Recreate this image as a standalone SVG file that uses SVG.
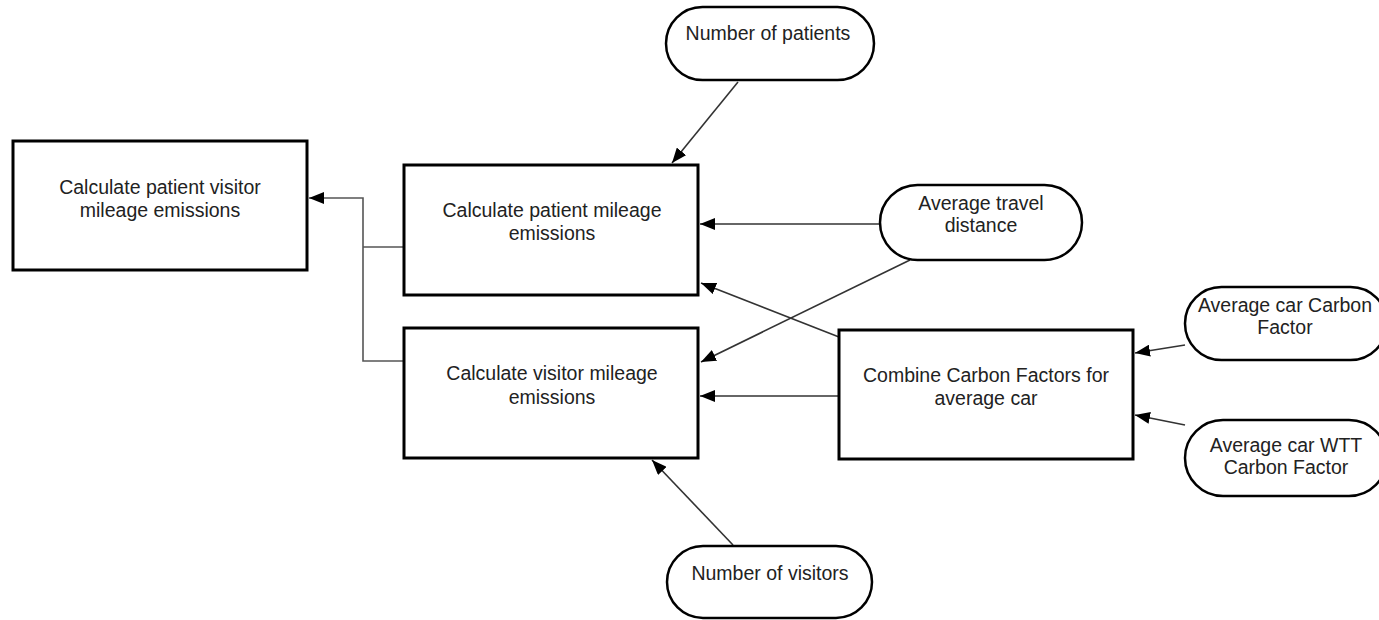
<svg xmlns="http://www.w3.org/2000/svg" width="1379" height="620" viewBox="0 0 1379 620">
  <defs>
    <marker id="arrow" markerUnits="userSpaceOnUse" markerWidth="15" markerHeight="12" refX="15" refY="6" orient="auto">
      <path d="M0,0 L15,6 L0,12 z" fill="#000"/>
    </marker>
    <style>
      .box { fill: #fff; stroke: #000; stroke-width: 3; }
      .pill { fill: #fff; stroke: #000; stroke-width: 2.5; }
      .lbl { font-family: "Liberation Sans", Arial, sans-serif; font-size: 19.5px; fill: #222; text-anchor: middle; }
      .conn { fill: none; stroke: #333; stroke-width: 1.6; }
      .elbow { fill: none; stroke: #555; stroke-width: 1.6; }
    </style>
  </defs>
  <rect width="1379" height="620" fill="#fff"/>

  <g id="connectors">
    <path class="elbow" d="M404,247 L363,247"/>
    <path class="elbow" d="M404,361 L363,361 L363,198 L309,198" marker-end="url(#arrow)"/>
    <line class="conn" x1="738" y1="82" x2="672" y2="163" marker-end="url(#arrow)"/>
    <line class="conn" x1="880" y1="224" x2="700" y2="224" marker-end="url(#arrow)"/>
    <line class="conn" x1="910" y1="260" x2="701" y2="362" marker-end="url(#arrow)"/>
    <line class="conn" x1="839" y1="337" x2="701" y2="283" marker-end="url(#arrow)"/>
    <line class="conn" x1="839" y1="396" x2="700" y2="396" marker-end="url(#arrow)"/>
    <line class="conn" x1="1185" y1="345" x2="1135" y2="353" marker-end="url(#arrow)"/>
    <line class="conn" x1="1185" y1="425" x2="1135" y2="415" marker-end="url(#arrow)"/>
    <line class="conn" x1="733" y1="545" x2="652" y2="460" marker-end="url(#arrow)"/>
  </g>

  <g id="node-total">
    <rect class="box" x="13" y="141" width="294" height="129"/>
    <text class="lbl" x="160" y="194">Calculate patient visitor</text>
    <text class="lbl" x="160" y="217">mileage emissions</text>
  </g>

  <g id="node-patient">
    <rect class="box" x="404" y="165" width="294" height="130"/>
    <text class="lbl" x="552" y="217">Calculate patient mileage</text>
    <text class="lbl" x="552" y="240">emissions</text>
  </g>

  <g id="node-visitor">
    <rect class="box" x="404" y="328" width="294" height="130"/>
    <text class="lbl" x="552" y="380">Calculate visitor mileage</text>
    <text class="lbl" x="552" y="404">emissions</text>
  </g>

  <g id="node-combine">
    <rect class="box" x="839" y="330" width="294" height="129"/>
    <text class="lbl" x="986" y="382">Combine Carbon Factors for</text>
    <text class="lbl" x="986" y="405">average car</text>
  </g>

  <g id="node-num-patients">
    <rect class="pill" x="666" y="7" width="208" height="73" rx="36.5" ry="36.5"/>
    <text class="lbl" x="768" y="40">Number of patients</text>
  </g>

  <g id="node-avg-distance">
    <rect class="pill" x="880" y="185" width="202" height="75" rx="37.5" ry="37.5"/>
    <text class="lbl" x="981" y="210">Average travel</text>
    <text class="lbl" x="981" y="232">distance</text>
  </g>

  <g id="node-car-cf">
    <rect class="pill" x="1185" y="287" width="202" height="73" rx="36.5" ry="36.5"/>
    <text class="lbl" x="1285" y="312">Average car Carbon</text>
    <text class="lbl" x="1285" y="334">Factor</text>
  </g>

  <g id="node-car-wtt">
    <rect class="pill" x="1185" y="420" width="202" height="76" rx="38" ry="38"/>
    <text class="lbl" x="1286" y="452">Average car WTT</text>
    <text class="lbl" x="1286" y="474">Carbon Factor</text>
  </g>

  <g id="node-num-visitors">
    <rect class="pill" x="667" y="546" width="205" height="72" rx="36" ry="36"/>
    <text class="lbl" x="770" y="580">Number of visitors</text>
  </g>
</svg>
